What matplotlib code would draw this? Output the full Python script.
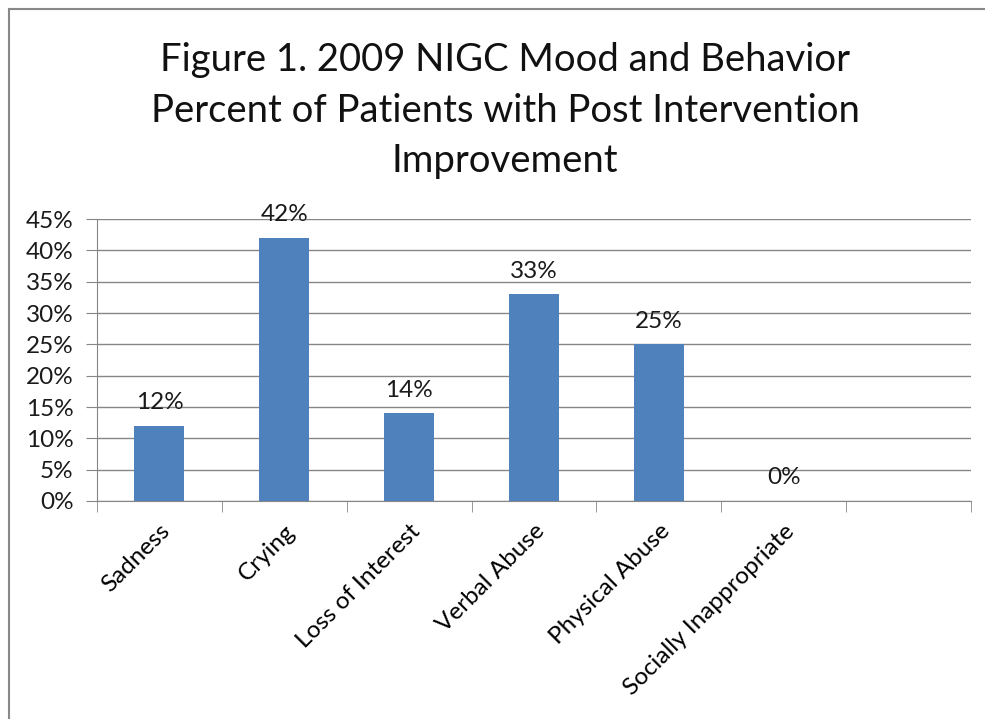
import matplotlib
matplotlib.use("Agg")
import matplotlib.pyplot as plt
from matplotlib.ticker import FixedLocator, PercentFormatter

categories = ["Sadness", "Crying", "Loss of Interest", "Verbal Abuse",
              "Physical Abuse", "Socially Inappropriate"]
values = [12, 42, 14, 33, 25, 0]
n_slots = 7
yticks = [0, 5, 10, 15, 20, 25, 30, 35, 40, 45]

plt.rcParams['font.family'] = ['Lato', 'DejaVu Sans']

fig = plt.figure(figsize=(9.85, 7.19), dpi=100)
ax = fig.add_axes([0.0985, 0.3032, 0.8873, 0.3922])

x = list(range(len(categories)))
ax.bar(x, values, width=0.4, color="#4F81BD", zorder=3)
for xi, v in zip(x, values):
    ax.text(xi, v + 2.0, f"{v}%", ha="center", va="bottom", fontsize=17.5, color="#1a1a1a", zorder=4)

ax.set_xlim(-0.5, n_slots - 0.5)
ax.set_ylim(0, 45)
ax.set_yticks(yticks)
ax.yaxis.set_major_formatter(PercentFormatter(decimals=0))
ax.set_xticks(x)
ax.set_xticklabels(categories, rotation=45, ha="right", rotation_mode="anchor", fontsize=17.5)
ax.tick_params(axis="x", length=0, pad=14)
ax.xaxis.set_minor_locator(FixedLocator([i - 0.5 for i in range(n_slots + 1)]))
ax.tick_params(axis="x", which="minor", length=8, color="#868686", direction="out")
ax.tick_params(axis="y", length=8, color="#868686", labelsize=17.5, pad=9, labelcolor="#1a1a1a")
ax.grid(axis="y", color="#868686", linewidth=1, zorder=0)
for s in ["top", "right"]:
    ax.spines[s].set_visible(False)
for s in ["left", "bottom"]:
    ax.spines[s].set_color("#868686")

fig.text(0.513, 0.846, "Figure 1. 2009 NIGC Mood and Behavior\nPercent of Patients with Post Intervention\nImprovement",
         ha="center", va="center", fontsize=27.5, linespacing=1.5, color="#111111")

# chart area border (left/top visible)
fig.add_artist(plt.Line2D([0.009, 0.009], [0, 0.987], color="#888888", linewidth=1.5, transform=fig.transFigure))
fig.add_artist(plt.Line2D([0.009, 1.0], [0.987, 0.987], color="#888888", linewidth=1.5, transform=fig.transFigure))

fig.savefig("out.png", dpi=100)
